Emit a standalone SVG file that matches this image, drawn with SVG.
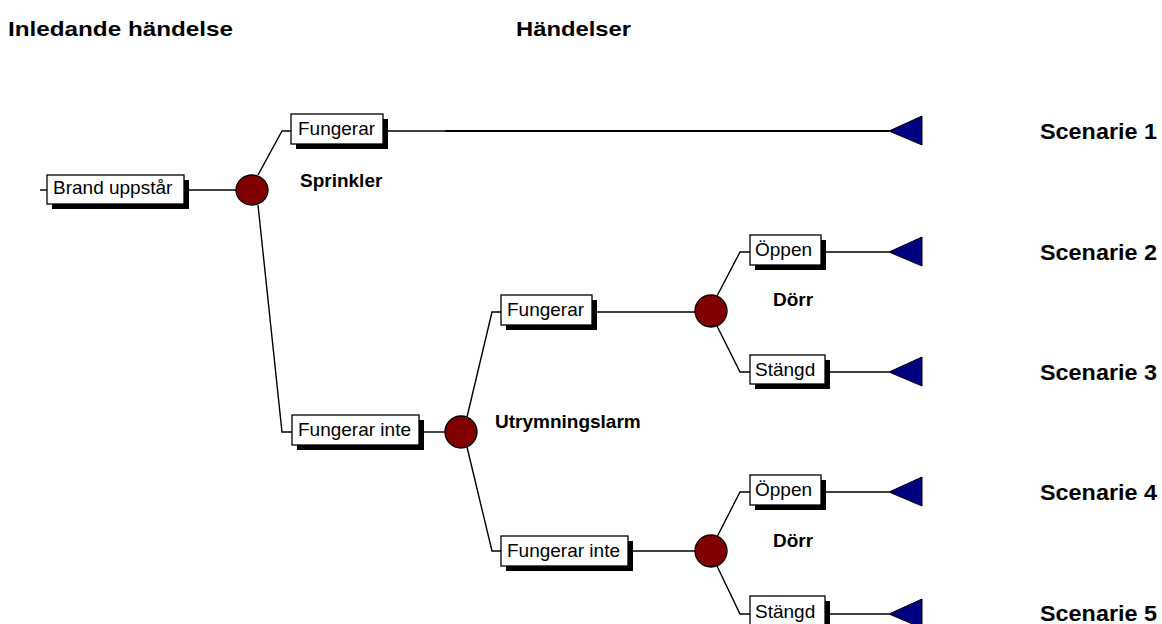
<svg xmlns="http://www.w3.org/2000/svg" width="1162" height="624" viewBox="0 0 1162 624">
<defs>
<style>
.bx{fill:#fff;stroke:#000;stroke-width:1.3}
.sh{fill:#000}
.bt{font-family:"Liberation Sans",Arial,sans-serif;font-size:19px;fill:#000}
.hd{font-family:"Liberation Sans",Arial,sans-serif;font-size:21px;font-weight:bold;fill:#000}
.sc{font-family:"Liberation Sans",Arial,sans-serif;font-size:22px;font-weight:bold;fill:#000}
.lb{font-family:"Liberation Sans",Arial,sans-serif;font-size:19px;font-weight:bold;fill:#000}
.ln{fill:none;stroke:#000;stroke-width:1.4}
.ck{fill:#800000;stroke:#000;stroke-width:1.3}
.tr{fill:#000080;stroke:#000;stroke-width:1}
</style>
</defs>
<rect width="1162" height="624" fill="#fff"/>
<text class="hd" x="8" y="36" textLength="225" lengthAdjust="spacingAndGlyphs">Inledande händelse</text>
<text class="hd" x="516" y="36" textLength="115" lengthAdjust="spacingAndGlyphs">Händelser</text>

<g id="connectors">
<path class="ln" d="M40 190 H47"/>
<path class="ln" d="M184 190 H236"/>
<path class="ln" d="M258 175 L282 131 H291"/>
<path class="ln" d="M383 131 H445"/>
<path d="M445 131 H889" fill="none" stroke="#000" stroke-width="2.2"/>
<path class="ln" d="M258 205 L282 432 H292"/>
<path class="ln" d="M419 432 H445"/>
<path class="ln" d="M467 417 L492 312 H501"/>
<path class="ln" d="M592 312 H695"/>
<path class="ln" d="M467 447 L492 551 H501"/>
<path class="ln" d="M628 551 H695"/>
<path class="ln" d="M717 296 L740 252 H750"/>
<path class="ln" d="M821 252 H889"/>
<path class="ln" d="M717 326 L740 372 H750"/>
<path class="ln" d="M825 372 H889"/>
<path class="ln" d="M717 537 L740 492 H750"/>
<path class="ln" d="M821 492 H889"/>
<path class="ln" d="M717 566 L740 614 H750"/>
<path class="ln" d="M825 614 H889"/>
</g>

<g id="n-brand"><rect class="sh" x="52" y="180" width="137" height="29"/><rect class="bx" x="47" y="175" width="137" height="29"/><text class="bt" x="53" y="194">Brand uppstår</text></g>
<g id="c1"><ellipse class="ck" cx="252" cy="190" rx="16" ry="15"/></g>
<g id="l-sprinkler"><text class="lb" x="300" y="187">Sprinkler</text></g>

<g id="n-fung1"><rect class="sh" x="296" y="119" width="92" height="30"/><rect class="bx" x="291" y="114" width="92" height="30"/><text class="bt" x="298" y="135">Fungerar</text></g>
<g id="n-funginte1"><rect class="sh" x="297" y="420" width="127" height="30"/><rect class="bx" x="292" y="415" width="127" height="30"/><text class="bt" x="298" y="436">Fungerar inte</text></g>
<g id="c2"><ellipse class="ck" cx="461" cy="432" rx="16" ry="16"/></g>
<g id="l-larm"><text class="lb" x="495" y="428">Utrymningslarm</text></g>

<g id="n-fung2"><rect class="sh" x="506" y="300" width="91" height="30"/><rect class="bx" x="501" y="295" width="91" height="30"/><text class="bt" x="507" y="316">Fungerar</text></g>
<g id="n-funginte2"><rect class="sh" x="506" y="541" width="127" height="30"/><rect class="bx" x="501" y="536" width="127" height="30"/><text class="bt" x="507" y="557">Fungerar inte</text></g>
<g id="c3"><ellipse class="ck" cx="711" cy="311" rx="16" ry="16"/></g>
<g id="c4"><ellipse class="ck" cx="711" cy="551" rx="16" ry="16"/></g>
<g id="l-dorr1"><text class="lb" x="773" y="306">Dörr</text></g>
<g id="l-dorr2"><text class="lb" x="773" y="547">Dörr</text></g>

<g id="n-oppen1"><rect class="sh" x="755" y="240" width="71" height="30"/><rect class="bx" x="750" y="235" width="71" height="30"/><text class="bt" x="755" y="256">Öppen</text></g>
<g id="n-stangd1"><rect class="sh" x="755" y="360" width="75" height="29"/><rect class="bx" x="750" y="355" width="75" height="29"/><text class="bt" x="755" y="376">Stängd</text></g>
<g id="n-oppen2"><rect class="sh" x="755" y="480" width="71" height="30"/><rect class="bx" x="750" y="475" width="71" height="30"/><text class="bt" x="755" y="496">Öppen</text></g>
<g id="n-stangd2"><rect class="sh" x="755" y="601" width="75" height="29"/><rect class="bx" x="750" y="596" width="75" height="29"/><text class="bt" x="755" y="618">Stängd</text></g>

<g id="end1"><polygon class="tr" points="889,131 922,116 922,145"/></g>
<g id="end2"><polygon class="tr" points="889,252 922,237 922,266"/></g>
<g id="end3"><polygon class="tr" points="889,372 922,357 922,386"/></g>
<g id="end4"><polygon class="tr" points="889,492 922,477 922,506"/></g>
<g id="end5"><polygon class="tr" points="889,614 922,599 922,628"/></g>

<g id="s1"><text class="sc" x="1040" y="139" textLength="117" lengthAdjust="spacingAndGlyphs">Scenarie 1</text></g>
<g id="s2"><text class="sc" x="1040" y="260" textLength="117" lengthAdjust="spacingAndGlyphs">Scenarie 2</text></g>
<g id="s3"><text class="sc" x="1040" y="380" textLength="117" lengthAdjust="spacingAndGlyphs">Scenarie 3</text></g>
<g id="s4"><text class="sc" x="1040" y="500" textLength="117" lengthAdjust="spacingAndGlyphs">Scenarie 4</text></g>
<g id="s5"><text class="sc" x="1040" y="621" textLength="117" lengthAdjust="spacingAndGlyphs">Scenarie 5</text></g>
</svg>
